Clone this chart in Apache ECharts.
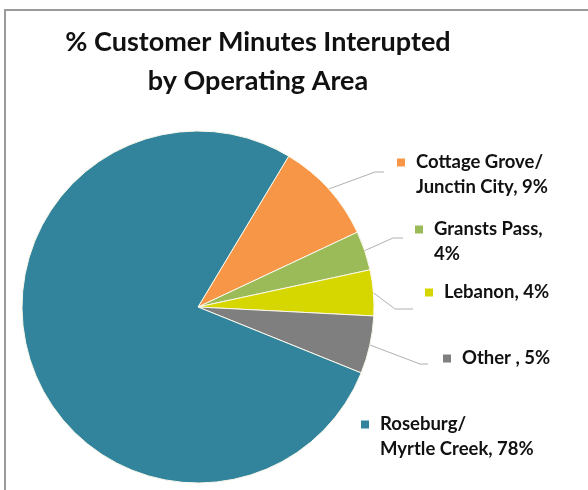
<!DOCTYPE html>
<html>
<head>
<meta charset="utf-8">
<script src="https://cdn.jsdelivr.net/npm/echarts@6/dist/echarts.min.js"></script>
<style>
html,body{margin:0;padding:0;background:#fff;}
#chart{width:588px;height:490px;}
</style>
</head>
<body>
<div id="chart"></div>
<script>
// ---- data ----
var categories = ['Cottage Grove/Junctin City', 'Gransts Pass', 'Lebanon', 'Other ', 'Roseburg/Myrtle Creek'];
var values = [9.4, 3.6, 4.2, 5.3, 77.5];
// label line breaks (text before the value)
var labelLines = [
  ['Cottage Grove/', 'Junctin City, '],
  ['Gransts Pass,', ''],
  ['Lebanon, '],
  ['Other , '],
  ['Roseburg/', 'Myrtle Creek, ']
];
var colors = ['#F79646', '#9BBB59', '#D6D600', '#7F7F7F', '#31849B'];

// ---- layout (label placement, px) ----
var labelPos = [
  [397, 150], [415, 217], [425, 280], [443, 346], [361, 412]
];
var lineBends = [
  [[375, 172], [384, 172]],
  [[393, 238], [403, 238]],
  [[395, 309], [413, 309]],
  [[420, 364], [428, 364]],
  null
];

var rich = {
  g: {width: 11, height: 8},
  sp: {width: 19},
  t: {fontFamily: 'Lato', fontWeight: 'bold', fontSize: 18.5, color: '#111111', lineHeight: 25}
};
colors.forEach(function (c, i) {
  rich['m' + i] = {width: 8, height: 8, backgroundColor: c};
});

var data = categories.map(function (name, i) {
  return {
    name: name,
    value: values[i],
    itemStyle: {color: colors[i]},
    labelLine: {show: lineBends[i] !== null}
  };
});

var chart = echarts.init(document.getElementById('chart'), null, {renderer: 'canvas'});
chart.setOption({
  backgroundColor: '#ffffff',
  animation: false,
  title: {
    text: '% Customer Minutes Interupted\nby Operating Area',
    left: 253,
    top: 18,
    textAlign: 'center',
    textStyle: {fontFamily: 'Lato', fontWeight: 'bold', fontSize: 27, lineHeight: 39, color: '#111111'}
  },
  graphic: [{
    type: 'rect',
    shape: {x: 5, y: 10, width: 620, height: 520},
    style: {fill: 'none', stroke: '#9a9a9a', lineWidth: 2},
    silent: true,
    z: -1
  }],
  series: [{
    type: 'pie',
    center: [198, 307],
    radius: 176,
    startAngle: 59,
    clockwise: true,
    avoidLabelOverlap: false,
    data: data,
    itemStyle: {borderColor: '#fbf8ea', borderWidth: 1},
    label: {
      show: true,
      position: 'outside',
      alignTo: 'none',
      rich: rich,
      formatter: function (p) {
        var lines = labelLines[p.dataIndex];
        var pct = Math.round(p.value) + '%';
        return lines.map(function (l, k) {
          var txt = l + (k === lines.length - 1 ? pct : '');
          return (k === 0 ? '{m' + p.dataIndex + '|}{g|}' : '{sp|}') + '{t|' + txt + '}';
        }).join('\n');
      }
    },
    labelLine: {
      show: true,
      length: 20,
      length2: 10,
      lineStyle: {color: '#b0b0b0', width: 1}
    },
    labelLayout: function (p) {
      var i = p.dataIndex;
      var out = {x: labelPos[i][0], y: labelPos[i][1], align: 'left', verticalAlign: 'top'};
      if (lineBends[i] && p.labelLinePoints) {
        out.labelLinePoints = [p.labelLinePoints[0], lineBends[i][0], lineBends[i][1]];
      }
      return out;
    }
  }]
});
</script>
</body>
</html>
